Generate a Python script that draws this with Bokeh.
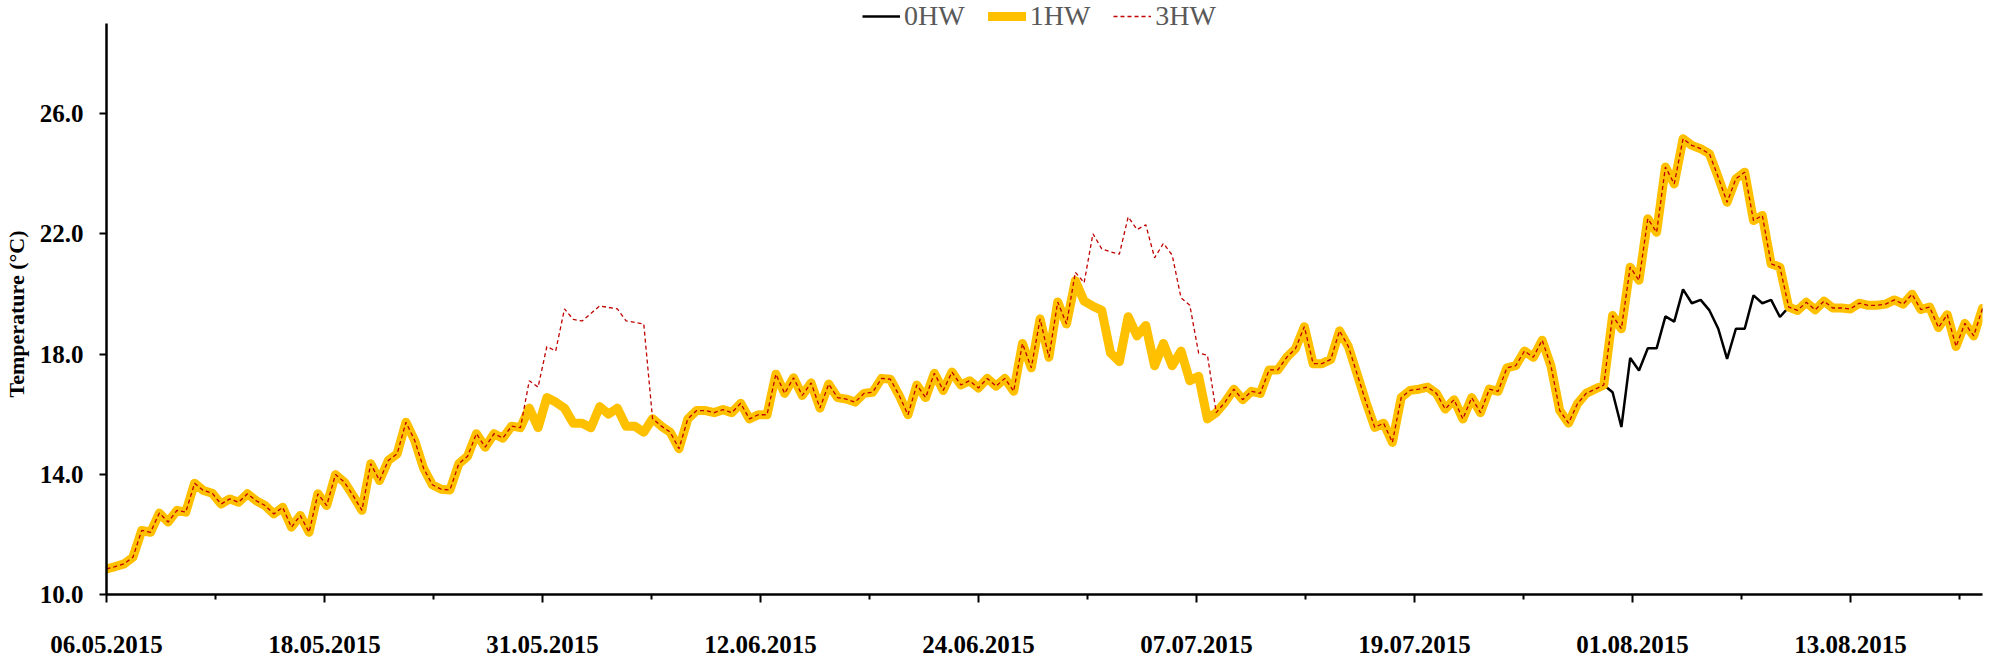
from bokeh.plotting import figure
from bokeh.models import Range1d, FixedTicker, Legend, LegendItem, PrintfTickFormatter
from bokeh.embed import file_html
from bokeh.resources import INLINE

# ---- data ----
# x axis: days since 06.05.2015, one reading every half day
tick_labels = ["06.05.2015", "18.05.2015", "31.05.2015", "12.06.2015", "24.06.2015",
               "07.07.2015", "19.07.2015", "01.08.2015", "13.08.2015"]
label_days = [0.0, 12.375, 24.75, 37.125, 49.5, 61.875, 74.25, 86.625, 99.0]
minor_days = [6.1875, 18.5625, 30.9375, 43.3125, 55.6875, 68.0625, 80.4375, 92.8125, 105.1875]
y_ticks = [10, 14, 18, 22, 26]
step_days = 0.5

hw1_a = [10.85, 10.93, 11.02, 11.24, 12.13, 12.07, 12.71, 12.41, 12.80, 12.74, 13.70, 13.46,
         13.37, 13.01, 13.18, 13.07, 13.35, 13.12, 12.96, 12.68, 12.90, 12.24, 12.63, 12.07, 13.35,
         12.96, 13.99, 13.74, 13.29, 12.80, 14.35, 13.79, 14.46, 14.68, 15.73, 15.12]
hw1_b = [14.2, 13.65, 13.5, 13.48, 14.35, 14.6, 15.35, 14.9, 15.35, 15.2, 15.6, 15.55, 16.2, 15.55,
         16.55, 16.4, 16.2, 15.7, 15.7, 15.55, 16.25, 16.0, 16.2, 15.6, 15.6, 15.4, 15.85,
         15.6, 15.4, 14.85, 15.84]
hw1_c = [16.12, 16.12, 16.05, 16.15, 16.05, 16.36, 15.84, 15.98, 15.98, 17.33, 16.69, 17.21, 16.62,
         17.04, 16.2, 17.0, 16.55, 16.5, 16.4, 16.69, 16.73, 17.19, 17.16, 16.62, 15.98, 16.97, 16.55,
         17.36, 16.79, 17.4, 16.97, 17.11, 16.87, 17.19, 16.93, 17.19, 16.76, 18.35, 17.54, 19.17,
         17.89, 19.73, 19.0, 20.44, 19.76, 19.59, 19.45, 18.03, 17.75, 19.24, 18.6, 18.95, 17.61,
         18.35, 17.61, 18.1, 17.11, 17.26, 15.84, 16.05, 16.4, 16.83, 16.48, 16.76, 16.69, 17.47,
         17.47, 17.89, 18.18, 18.91, 17.68, 17.68, 17.82, 18.77, 18.25]
hw1_d = [17.33, 16.4, 15.56, 15.7, 15.06, 16.55, 16.79, 16.83, 16.9, 16.69, 16.17, 16.48,
         15.84, 16.55, 16.05, 16.83, 16.76, 17.54, 17.61, 18.1, 17.89, 18.46, 17.61, 16.12, 15.7,
         16.34, 16.69, 16.83, 16.97]
hw1_e = [19.28, 18.84, 20.89, 20.45, 22.5, 22.05, 24.22, 23.66, 25.16, 24.94, 24.83, 24.66, 23.88,
         23.05, 23.83, 24.05, 22.44, 22.61, 21.0, 20.89, 19.56, 19.45, 19.72, 19.47, 19.76, 19.53,
         19.53, 19.5, 19.69]
hw1_f = [19.62, 19.62, 19.66, 19.8, 19.66, 19.99, 19.48, 19.56, 18.88, 19.31, 18.25, 19.02, 18.6, 19.52]

# segments where the other scenarios differ from 1HW
hw3_dev1 = [17.11, 16.9, 18.25, 18.1, 19.5, 19.15, 19.1, 19.35, 19.6, 19.55, 19.5, 19.1, 19.05, 19.0]
hw3_dev2 = [20.72, 20.37, 22.0, 21.5, 21.4, 21.32, 22.56, 22.14, 22.3, 21.2, 21.68, 21.29, 19.87,
            19.62, 18.03, 17.96]
hw0_dev = [16.73, 15.57, 17.87, 17.45, 18.19, 18.19, 19.25, 19.08, 20.15, 19.69, 19.8, 19.45, 18.84,
           17.84, 18.84, 18.84, 19.95, 19.69, 19.8, 19.23]

hw1 = hw1_a + hw1_b + hw1_c + hw1_d + hw1_e + hw1_f
hw3 = hw1[:48] + hw3_dev1 + hw1[62:110] + hw3_dev2 + hw1[126:]
hw0 = hw1[:171] + hw0_dev + hw1[191:]

days = [i * step_days for i in range(len(hw1))]

FONT = "Liberation Serif"

p = figure(width=2000, height=667, output_backend="svg", toolbar_location=None,
           x_range=Range1d(0, 106.5), y_range=Range1d(10, 29.76),
           min_border_left=103, min_border_right=18, min_border_top=0, min_border_bottom=73)
p.outline_line_color = None
p.grid.visible = False

r0 = p.line(days, hw0, line_color="black", line_width=2.5)
r1 = p.line(days, hw1, line_color="#FFC000", line_width=9, line_join="round", line_cap="round")
r3 = p.line(days, hw3, line_color="#C00000", line_width=1.3, line_dash="4 3")

xa = p.xaxis[0]
xa.ticker = FixedTicker(ticks=label_days, minor_ticks=minor_days)
xa.major_label_overrides = {k: v for k, v in zip(label_days, tick_labels)}
xa.axis_line_width = 2.5
xa.axis_line_color = "black"
xa.major_tick_out = 8
xa.major_tick_in = 0
xa.major_tick_line_width = 2
xa.minor_tick_out = 5
xa.minor_tick_in = 0
xa.minor_tick_line_width = 2
xa.major_label_text_font = FONT
xa.major_label_text_font_size = "25px"
xa.major_label_text_font_style = "bold"
xa.major_label_text_color = "black"
xa.major_label_standoff = 33

ya = p.yaxis[0]
ya.ticker = FixedTicker(ticks=y_ticks)
ya.formatter = PrintfTickFormatter(format="%.1f")
ya.bounds = (10, 29)
ya.axis_line_width = 2.5
ya.axis_line_color = "black"
ya.major_tick_out = 7
ya.major_tick_in = 0
ya.major_tick_line_width = 2
ya.minor_tick_line_color = None
ya.major_label_text_font = FONT
ya.major_label_text_font_size = "25px"
ya.major_label_text_font_style = "bold"
ya.major_label_text_color = "black"
ya.major_label_standoff = 16
ya.axis_label = "Temperature  (\u00b0C)\u00a0\u00a0\u00a0\u00a0\u00a0"
ya.axis_label_text_font = FONT
ya.axis_label_text_font_size = "22px"
ya.axis_label_text_font_style = "bold"
ya.axis_label_text_color = "black"
ya.axis_label_standoff = 8

legend = Legend(items=[LegendItem(label="0HW", renderers=[r0]),
                       LegendItem(label="1HW", renderers=[r1]),
                       LegendItem(label="3HW", renderers=[r3])],
                orientation="horizontal", location=(756, 562),
                padding=0, margin=0, spacing=23, label_standoff=4,
                glyph_width=38, glyph_height=20,
                label_text_font=FONT, label_text_font_size="28px",
                label_text_color="#595959",
                border_line_color=None, background_fill_alpha=0)
p.add_layout(legend)

open("out.html", "w").write(file_html(p, INLINE))
